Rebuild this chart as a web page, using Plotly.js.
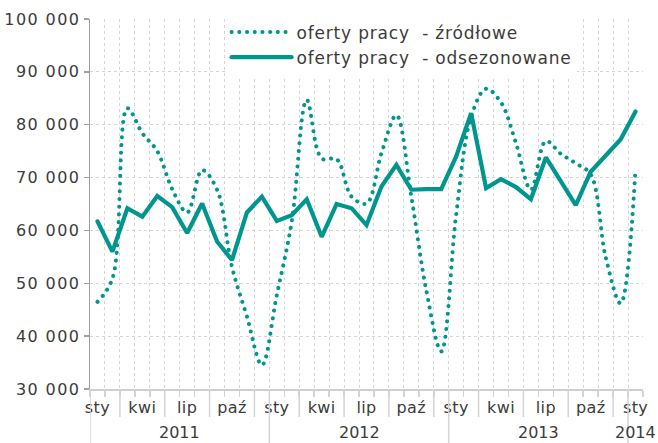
<!DOCTYPE html>
<html>
<head>
<meta charset="utf-8">
<script src="https://cdn.plot.ly/plotly-3.0.1.min.js"></script>
<style>
html,body{margin:0;padding:0;background:#fff;}
#chart{width:658px;height:443px;}
path.js-line{stroke-linecap:round;}
.ytick text{letter-spacing:1.4px;}
.xtick text{letter-spacing:0.4px;}
.legendtext{letter-spacing:0.8px;}
</style>
</head>
<body>
<div id="chart"></div>
<script>
// Periods: Jan 2011 .. Jan 2014
const periods = ['2011-01','2011-02','2011-03','2011-04','2011-05','2011-06','2011-07','2011-08','2011-09','2011-10','2011-11','2011-12',
                 '2012-01','2012-02','2012-03','2012-04','2012-05','2012-06','2012-07','2012-08','2012-09','2012-10','2012-11','2012-12',
                 '2013-01','2013-02','2013-03','2013-04','2013-05','2013-06','2013-07','2013-08','2013-09','2013-10','2013-11','2013-12',
                 '2014-01'];
const monthNames = ['sty','lut','mar','kwi','maj','cze','lip','sie','wrz','paź','lis','gru'];
const labelledMonths = ['sty','kwi','lip','paź'];
const years = ['2011','2012','2013','2014'];

// oferty pracy - źródłowe (raw)
const raw = [46500, 50900, 83100, 78400, 75000, 67800, 63400, 71400, 67700, 53100, 43700, 34500,
             47800, 61700, 84700, 73600, 73500, 66400, 65100, 74600, 81800, 66400, 48700, 37100,
             63000, 81500, 86800, 84200, 76500, 67700, 76900, 74500, 72700, 70600, 55000, 46200,
             71800];
// oferty pracy - odsezonowane (seasonally adjusted)
const sa = [61700, 56000, 64200, 62600, 66500, 64400, 59500, 65100, 57900, 54400, 63400, 66400,
            61800, 62900, 65900, 58800, 65000, 64200, 61000, 68300, 72400, 67700, 67800, 67800,
            74000, 82200, 68000, 69700, 68200, 65900, 73800, 69200, 64800, 71100, 74300, 77200,
            82500];

const seriesNames = ['oferty pracy\u00a0 - źródłowe', 'oferty pracy\u00a0 - odsezonowane'];
const teal = '#00968f';
const textColor = '#3c3c3c';

const tickText = periods.map(p => {
  const m = monthNames[parseInt(p.slice(5), 10) - 1];
  return labelledMonths.includes(m) ? m : '';
});

const traces = [
  {x: periods, y: raw, name: seriesNames[0], type: 'scatter', mode: 'lines',
   line: {color: teal, width: 4, dash: '0.1px,7.6px', shape: 'spline', smoothing: 1}},
  {x: periods, y: sa, name: seriesNames[1], type: 'scatter', mode: 'lines',
   line: {color: teal, width: 4.2}}
];

// separators below the axis
const shapes = [];
const annotations = [];
const sepColor = '#d4d4d4';
periods.forEach((p, i) => {
  if (i === 0) return;
  const m = parseInt(p.slice(5), 10);
  const prevYear = periods[i-1].slice(0,4);
  if (p.slice(0,4) !== prevYear) {
    shapes.push({type:'line', xref:'x', yref:'paper', x0:i-0.5, x1:i-0.5, y0:0, y1:-0.15,
                 line:{color:sepColor, width:1.5}});
  } else if (m % 3 === 0) {
    shapes.push({type:'line', xref:'x', yref:'paper', x0:i-0.5, x1:i-0.5, y0:0, y1:-0.076,
                 line:{color:sepColor, width:1.5}});
  }
});
shapes.push({type:'line', xref:'x', yref:'paper', x0:-0.5, x1:-0.5, y0:0, y1:-0.15,
             line:{color:sepColor, width:1.5}});
years.forEach(y => {
  const idx = periods.map((p, i) => p.startsWith(y) ? i : -1).filter(i => i >= 0);
  const c = (idx[0] + idx[idx.length-1]) / 2;
  annotations.push({text: y, xref:'x', yref:'paper', x: c, y: -0.118, yanchor:'middle', xanchor:'center',
                    showarrow:false, borderpad:0, font:{family:'DejaVu Sans', size:16, color:textColor}});
});

const layout = {
  width: 658, height: 443,
  margin: {l: 90, r: 15, t: 19, b: 54, autoexpand: false},
  paper_bgcolor: '#fff', plot_bgcolor: '#fff',
  separators: ', ',
  font: {family: 'DejaVu Sans', size: 16, color: textColor},
  showlegend: true,
  legend: {x: 0.247, y: 1.012, xanchor: 'left', yanchor: 'top', bgcolor: '#fff', itemwidth: 60,
           font: {family: 'DejaVu Sans', size: 17, color: textColor}, tracegroupgap: 0},
  xaxis: {type: 'category', range: [-0.5, periods.length - 0.5], autorange: false,
          tickson: 'boundaries', tickvals: periods, ticktext: tickText,
          automargin: false,
          showgrid: true, gridcolor: '#d6d6d6', griddash: 'dot', gridwidth: 1,
          ticks: 'outside', ticklen: 6, tickcolor: sepColor, tickwidth: 1.5,
          showline: true, linecolor: '#cfcfcf', linewidth: 1.5, ticklabelstandoff: 3,
          tickangle: 0, fixedrange: true,
          tickfont: {family: 'DejaVu Sans', size: 16, color: textColor}},
  yaxis: {range: [30000, 100000], dtick: 10000, tick0: 30000, tickformat: ',d', automargin: false,
          showgrid: true, gridcolor: '#d6d6d6', griddash: 'dot', gridwidth: 1,
          ticks: 'outside', ticklen: 5, tickcolor: '#a0a0a0', tickwidth: 1.5,
          showline: true, linecolor: '#a0a0a0', linewidth: 1.5, zeroline: false,
          tickfont: {family: 'DejaVu Sans', size: 16, color: textColor}},
  shapes: shapes,
  annotations: annotations
};

Plotly.newPlot('chart', traces, layout, {displayModeBar: false, staticPlot: true});
</script>
</body>
</html>
